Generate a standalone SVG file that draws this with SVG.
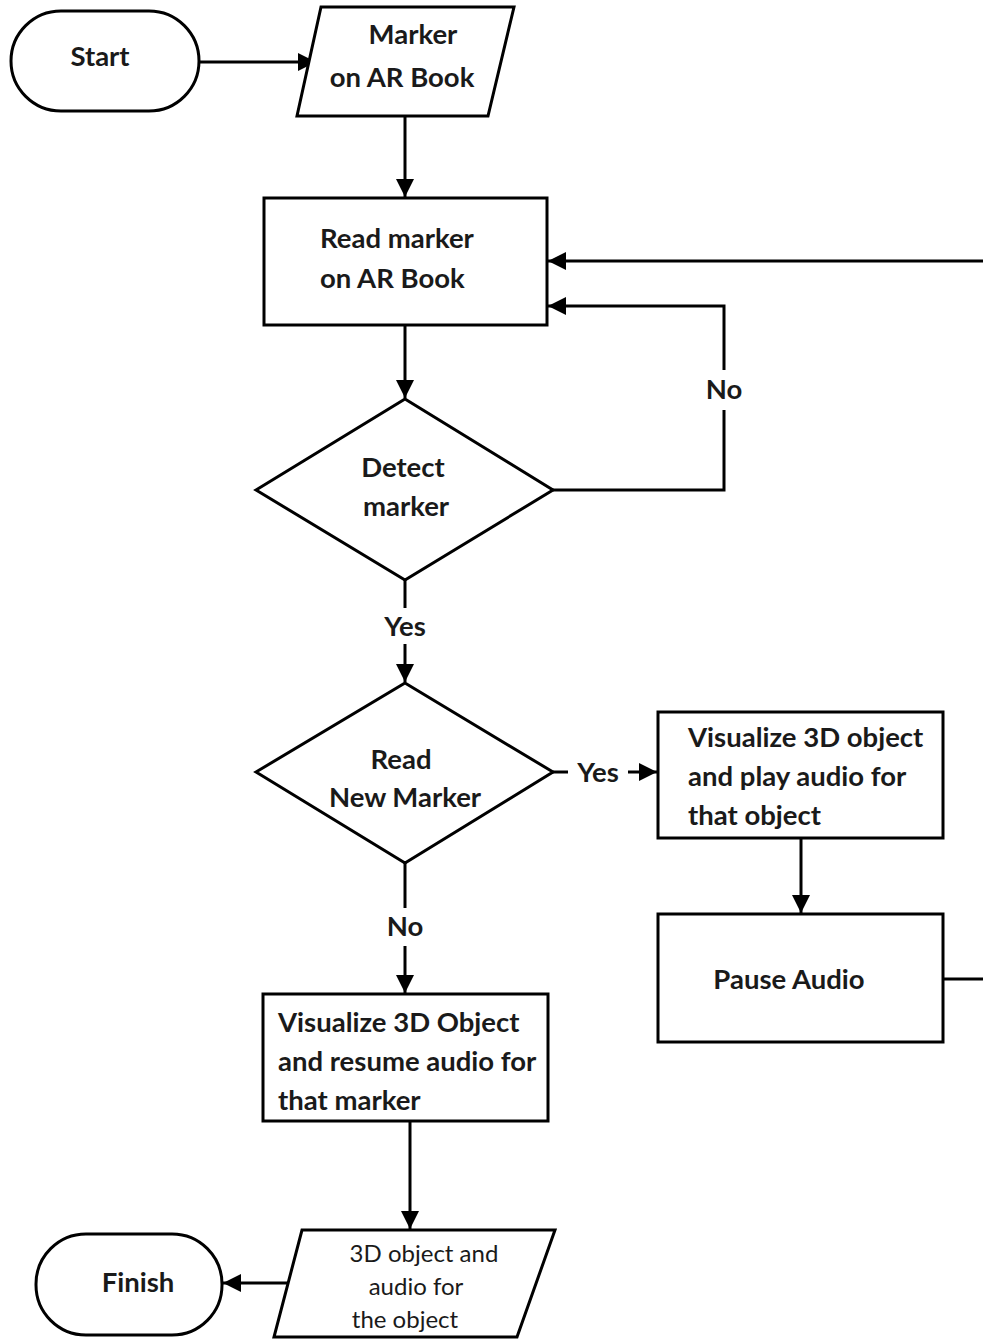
<svg xmlns="http://www.w3.org/2000/svg" width="983" height="1339" viewBox="0 0 983 1339">
<style>
.s{fill:#fff;stroke:#000;stroke-width:3}
.c{fill:none;stroke:#000;stroke-width:3}
text{font-family:Lato,"Open Sans","Liberation Sans",sans-serif;font-weight:bold;font-size:27.5px;fill:#1a1a1a}
.m{text-anchor:middle}
.sm{font-size:24px;font-weight:normal}
</style>
<defs>
<marker id="a" viewBox="0 0 10 10" refX="10" refY="5" markerWidth="6" markerHeight="6" markerUnits="strokeWidth" orient="auto">
<path d="M0,0 L10,5 L0,10 Z" fill="#000"/>
</marker>
</defs>
<g id="connectors">
<line class="c" x1="199" y1="62" x2="316" y2="62" marker-end="url(#a)"/>
<line class="c" x1="405" y1="116" x2="405" y2="197" marker-end="url(#a)"/>
<line class="c" x1="983" y1="261" x2="548" y2="261" marker-end="url(#a)"/>
<line class="c" x1="405" y1="325" x2="405" y2="398" marker-end="url(#a)"/>
<polyline class="c" points="553,490 724,490 724,306 548,306" marker-end="url(#a)"/>
<line class="c" x1="405" y1="580" x2="405" y2="682" marker-end="url(#a)"/>
<line class="c" x1="553" y1="772" x2="657" y2="772" marker-end="url(#a)"/>
<line class="c" x1="801" y1="838" x2="801" y2="913" marker-end="url(#a)"/>
<line class="c" x1="943" y1="979" x2="983" y2="979"/>
<line class="c" x1="405" y1="863" x2="405" y2="993" marker-end="url(#a)"/>
<line class="c" x1="410" y1="1121" x2="410" y2="1229" marker-end="url(#a)"/>
<line class="c" x1="290" y1="1283" x2="223" y2="1283" marker-end="url(#a)"/>
<rect x="697" y="370" width="52" height="40" fill="#fff"/>
<text class="m" x="724" y="399">No</text>
<rect x="378" y="608" width="54" height="36" fill="#fff"/>
<text class="m" x="405" y="636">Yes</text>
<rect x="568" y="756" width="60" height="34" fill="#fff"/>
<text class="m" x="598" y="782">Yes</text>
<rect x="381" y="908" width="48" height="38" fill="#fff"/>
<text class="m" x="405" y="936">No</text>
</g>
<g id="start">
<rect class="s" x="11" y="11" width="188" height="100" rx="50"/>
<text class="m" x="100" y="66">Start</text>
</g>
<g id="marker-input">
<polygon class="s" points="321,7 514,7 488,116 297,116"/>
<text class="m" x="413" y="44">Marker</text>
<text class="m" x="402" y="87">on AR Book</text>
</g>
<g id="read-marker">
<rect class="s" x="264" y="198" width="283" height="127"/>
<text x="320" y="248">Read marker</text>
<text x="320" y="288">on AR Book</text>
</g>
<g id="detect-marker">
<polygon class="s" points="405,399 553,490 405,580 256,490"/>
<text class="m" x="403" y="477">Detect</text>
<text class="m" x="406" y="516">marker</text>
</g>
<g id="read-new-marker">
<polygon class="s" points="405,683 553,772 405,863 256,772"/>
<text class="m" x="401" y="769">Read</text>
<text class="m" x="405" y="807">New Marker</text>
</g>
<g id="visualize-play">
<rect class="s" x="658" y="712" width="285" height="126"/>
<text x="688" y="747">Visualize 3D object</text>
<text x="688" y="786">and play audio for</text>
<text x="688" y="825">that object</text>
</g>
<g id="pause-audio">
<rect class="s" x="658" y="914" width="285" height="128"/>
<text class="m" x="789" y="989">Pause Audio</text>
</g>
<g id="visualize-resume">
<rect class="s" x="263" y="994" width="285" height="127"/>
<text x="278" y="1032">Visualize 3D Object</text>
<text x="278" y="1071">and resume audio for</text>
<text x="278" y="1110">that marker</text>
</g>
<g id="output">
<polygon class="s" points="302,1230 555,1230 517,1337 274,1337"/>
<text class="m sm" x="424" y="1262">3D object and</text>
<text class="m sm" x="416" y="1295">audio for</text>
<text class="m sm" x="405" y="1328">the object</text>
</g>
<g id="finish">
<rect class="s" x="36" y="1234" width="186" height="101" rx="50"/>
<text class="m" x="138" y="1292">Finish</text>
</g>
</svg>
